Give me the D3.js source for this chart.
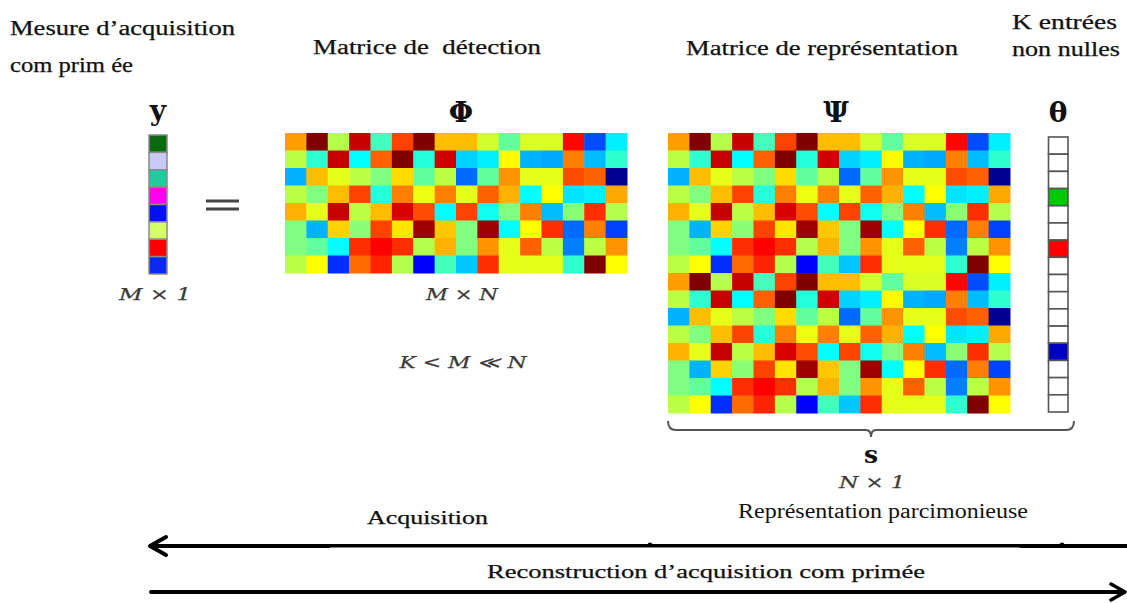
<!DOCTYPE html>
<html>
<head>
<meta charset="utf-8">
<script src="https://cdn.jsdelivr.net/npm/d3@7"></script>
<style>
  html, body { margin: 0; padding: 0; background: #fff; }
  svg { display: block; }
</style>
</head>
<body>
<svg id="chart" width="1127" height="603"></svg>
<script>
// ---- Data (jet colormap in [0,1]) ----
const matrixCols = d3.range(16);

const phiValues = [
  [0.72, 1.00, 0.55, 0.93, 0.44, 0.81, 1.00, 0.69, 0.69, 0.58, 0.47, 0.59, 0.59, 0.87, 0.20, 0.36],
  [0.56, 0.42, 0.93, 0.375, 0.78, 1.00, 0.41, 0.92, 0.33, 0.36, 0.63, 0.30, 0.29, 0.75, 0.31, 0.42],
  [0.30, 0.69, 0.60, 0.56, 0.50, 0.66, 0.47, 0.56, 0.23, 0.47, 0.73, 0.60, 0.60, 0.80, 0.78, 0.02],
  [0.56, 0.50, 0.69, 0.81, 0.41, 0.75, 0.61, 0.75, 0.60, 0.78, 0.70, 0.375, 0.625, 0.35, 0.36, 0.71],
  [0.70, 0.60, 0.93, 0.56, 0.69, 0.91, 0.80, 0.375, 0.81, 0.39, 0.50, 0.75, 0.31, 0.51, 0.83, 0.55],
  [0.50, 0.30, 0.67, 0.51, 0.81, 0.65, 0.97, 0.68, 0.50, 0.97, 0.375, 0.625, 0.83, 0.23, 0.75, 0.19],
  [0.50, 0.47, 0.375, 0.83, 0.875, 0.83, 0.55, 0.70, 0.50, 0.73, 0.60, 0.78, 0.56, 0.25, 0.56, 0.73],
  [0.56, 0.625, 0.17, 0.77, 0.84, 0.55, 0.125, 0.44, 0.32, 0.83, 0.60, 0.60, 0.60, 0.42, 1.00, 0.625]
];

// Psi shows the same 8 rows twice (16 x 16)
const psiValues = [
  [0.72, 1.00, 0.55, 0.93, 0.44, 0.81, 1.00, 0.69, 0.69, 0.58, 0.47, 0.59, 0.59, 0.87, 0.20, 0.36],
  [0.56, 0.42, 0.93, 0.375, 0.78, 1.00, 0.41, 0.92, 0.33, 0.36, 0.63, 0.30, 0.29, 0.75, 0.31, 0.42],
  [0.30, 0.69, 0.60, 0.56, 0.50, 0.66, 0.47, 0.56, 0.23, 0.47, 0.73, 0.60, 0.60, 0.80, 0.78, 0.02],
  [0.56, 0.50, 0.69, 0.81, 0.41, 0.75, 0.61, 0.75, 0.60, 0.78, 0.70, 0.375, 0.625, 0.35, 0.36, 0.71],
  [0.70, 0.60, 0.93, 0.56, 0.69, 0.91, 0.80, 0.375, 0.81, 0.39, 0.50, 0.75, 0.31, 0.51, 0.83, 0.55],
  [0.50, 0.30, 0.67, 0.51, 0.81, 0.65, 0.97, 0.68, 0.50, 0.97, 0.375, 0.625, 0.83, 0.23, 0.75, 0.19],
  [0.50, 0.47, 0.375, 0.83, 0.875, 0.83, 0.55, 0.70, 0.50, 0.73, 0.60, 0.78, 0.56, 0.25, 0.56, 0.73],
  [0.56, 0.625, 0.17, 0.77, 0.84, 0.55, 0.125, 0.44, 0.32, 0.83, 0.60, 0.60, 0.60, 0.42, 1.00, 0.625],
  [0.72, 1.00, 0.55, 0.93, 0.44, 0.81, 1.00, 0.69, 0.69, 0.58, 0.47, 0.59, 0.59, 0.87, 0.20, 0.36],
  [0.56, 0.42, 0.93, 0.375, 0.78, 1.00, 0.41, 0.92, 0.33, 0.36, 0.63, 0.30, 0.29, 0.75, 0.31, 0.42],
  [0.30, 0.69, 0.60, 0.56, 0.50, 0.66, 0.47, 0.56, 0.23, 0.47, 0.73, 0.60, 0.60, 0.80, 0.78, 0.02],
  [0.56, 0.50, 0.69, 0.81, 0.41, 0.75, 0.61, 0.75, 0.60, 0.78, 0.70, 0.375, 0.625, 0.35, 0.36, 0.71],
  [0.70, 0.60, 0.93, 0.56, 0.69, 0.91, 0.80, 0.375, 0.81, 0.39, 0.50, 0.75, 0.31, 0.51, 0.83, 0.55],
  [0.50, 0.30, 0.67, 0.51, 0.81, 0.65, 0.97, 0.68, 0.50, 0.97, 0.375, 0.625, 0.83, 0.23, 0.75, 0.19],
  [0.50, 0.47, 0.375, 0.83, 0.875, 0.83, 0.55, 0.70, 0.50, 0.73, 0.60, 0.78, 0.56, 0.25, 0.56, 0.73],
  [0.56, 0.625, 0.17, 0.77, 0.84, 0.55, 0.125, 0.44, 0.32, 0.83, 0.60, 0.60, 0.60, 0.42, 1.00, 0.625]
];

const yVectorColors = ["#0b6a10", "#c9c9f6", "#1fcc9e", "#ff00f0", "#0010f0", "#d4ff66", "#ff0000", "#0a28f0"];
const thetaColors = [null, null, null, "#00c800", null, null, "#ff0000", null,
                     null, null, null, null, "#0000c0", null, null, null];

const topLabels = [
  { text: "Mesure d\u2019acquisition", x: 10, y: 35, len: 225 },
  { text: "com prim \u00e9e", x: 10, y: 72, len: 123 },
  { text: "Matrice de  d\u00e9tection", x: 313, y: 54, len: 228 },
  { text: "Matrice de repr\u00e9sentation", x: 686, y: 55, len: 272 },
  { text: "K entr\u00e9es", x: 1012, y: 29, len: 105 },
  { text: "non nulles", x: 1012, y: 56, len: 108 }
];
const symbolLabels = [
  { text: "y", x: 158, y: 120, size: 28 },
  { text: "\u03A6", x: 461, y: 122, size: 28 },
  { text: "\u03A8", x: 836, y: 122, size: 28 },
  { text: "\u03B8", x: 1058, y: 122, size: 28 },
  { text: "s", x: 871, y: 463, size: 25 }
];
const dimLabels = [
  { text: "M \u00d7 1", x: 155, y: 300, len: 72 },
  { text: "M \u00d7 N", x: 462, y: 300, len: 72 },
  { text: "K < M \u226A N", x: 463, y: 368, len: 127 },
  { text: "N \u00d7 1", x: 872, y: 488, len: 66 }
];
const bottomLabels = [
  { text: "Acquisition", x: 367, y: 524, len: 121, size: 19, stroke: 0.25 },
  { text: "Repr\u00e9sentation parcimonieuse", x: 738, y: 518, len: 290, size: 20, stroke: 0 },
  { text: "Reconstruction d\u2019acquisition com prim\u00e9e", x: 487, y: 578, len: 438, size: 19, stroke: 0.25 }
];

// ---- Jet colormap ----
function clamp01(v) { return Math.max(0, Math.min(1, v)); }
function jet(t) {
  const r = clamp01(1.5 - Math.abs(4 * t - 3));
  const g = clamp01(1.5 - Math.abs(4 * t - 2));
  const b = clamp01(1.5 - Math.abs(4 * t - 1));
  return d3.rgb(r * 255, g * 255, b * 255).formatHex();
}
const color = d3.scaleSequential(jet).domain([0, 1]);

const svg = d3.select("#chart");

// ---- Heatmap helper ----
function drawMatrix(values, x0, x1, y0, y1) {
  const x = d3.scaleBand().domain(matrixCols).range([x0, x1]);
  const y = d3.scaleBand().domain(d3.range(values.length)).range([y0, y1]);
  const g = svg.append("g");
  values.forEach((row, ri) => {
    g.selectAll(null).data(row).enter().append("rect")
      .attr("x", (d, ci) => x(ci))
      .attr("y", y(ri))
      .attr("width", x.bandwidth() + 0.5)
      .attr("height", y.bandwidth() + 0.5)
      .attr("fill", d => color(d));
  });
}
drawMatrix(phiValues, 285, 627, 133, 273);
drawMatrix(psiValues, 668, 1010, 133, 413);

// ---- y vector ----
const yBand = d3.scaleBand().domain(d3.range(yVectorColors.length)).range([135, 274]);
svg.append("g").selectAll("rect").data(yVectorColors).enter().append("rect")
  .attr("x", 149).attr("y", (d, i) => yBand(i))
  .attr("width", 18).attr("height", yBand.bandwidth())
  .attr("fill", d => d).attr("stroke", "#8a8a8a").attr("stroke-width", 1.5);

// ---- theta vector ----
const tBand = d3.scaleBand().domain(d3.range(thetaColors.length)).range([137, 412]);
svg.append("g").selectAll("rect").data(thetaColors).enter().append("rect")
  .attr("x", 1048.5).attr("y", (d, i) => tBand(i))
  .attr("width", 19.5).attr("height", tBand.bandwidth())
  .attr("fill", d => d || "#ffffff").attr("stroke", "#555").attr("stroke-width", 1.6);

// ---- equals sign ----
svg.append("g").selectAll("line").data([201, 209]).enter().append("line")
  .attr("x1", 206).attr("x2", 239).attr("y1", d => d).attr("y2", d => d)
  .attr("stroke", "#444").attr("stroke-width", 3);

// ---- brace under Psi/theta ----
svg.append("path")
  .attr("d", "M668,421 Q668,430 676,430 L866,430 Q871,430 871,437 Q871,430 876,430 L1066,430 Q1074,430 1074,421")
  .attr("fill", "none").attr("stroke", "#555").attr("stroke-width", 2);

// ---- text ----
svg.append("g").selectAll("text").data(topLabels).enter().append("text")
  .attr("x", d => d.x).attr("y", d => d.y)
  .attr("textLength", d => d.len).attr("lengthAdjust", "spacingAndGlyphs")
  .attr("font-family", "Liberation Serif, DejaVu Serif, serif")
  .attr("font-size", 20).attr("fill", "#111")
  .attr("stroke", "#111").attr("stroke-width", 0.25)
  .attr("xml:space", "preserve")
  .text(d => d.text);

svg.append("g").selectAll("text").data(symbolLabels).enter().append("text")
  .attr("x", d => d.x).attr("y", d => d.y)
  .attr("text-anchor", "middle")
  .attr("font-family", "DejaVu Serif, Liberation Serif, serif")
  .attr("font-weight", "bold").attr("font-size", d => d.size).attr("fill", "#111")
  .text(d => d.text);

svg.append("g").selectAll("text").data(dimLabels).enter().append("text")
  .attr("x", d => d.x - d.len / 2).attr("y", d => d.y)
  .attr("textLength", d => d.len).attr("lengthAdjust", "spacingAndGlyphs")
  .attr("font-family", "DejaVu Serif, Liberation Serif, serif")
  .attr("font-style", "italic").attr("font-size", 16).attr("fill", "#3a3a3a")
  .attr("stroke", "#3a3a3a").attr("stroke-width", 0.25)
  .text(d => d.text);

// ---- arrows ----
const arrows = svg.append("g");
arrows.append("line").attr("x1", 150).attr("x2", 1127).attr("y1", 546).attr("y2", 546)
  .attr("stroke", "#000").attr("stroke-width", 4);
arrows.append("path").attr("d", "M166,537 L150,546 L166,555")
  .attr("fill", "none").attr("stroke", "#000").attr("stroke-width", 4)
  .attr("stroke-linecap", "round").attr("stroke-linejoin", "round");
arrows.selectAll("circle").data([650, 1062]).enter().append("circle")
  .attr("cx", d => d).attr("cy", 545).attr("r", 2.5).attr("fill", "#000");
// white band behind reconstruction label
arrows.append("rect").attr("x", 330).attr("y", 547.5).attr("width", 690).attr("height", 36).attr("fill", "#fff");

arrows.append("line").attr("x1", 151).attr("x2", 1124).attr("y1", 592).attr("y2", 592)
  .attr("stroke", "#000").attr("stroke-width", 4).attr("stroke-linecap", "round");
arrows.append("path").attr("d", "M1111,584 L1125,592 L1111,600")
  .attr("fill", "none").attr("stroke", "#000").attr("stroke-width", 3.5)
  .attr("stroke-linecap", "round").attr("stroke-linejoin", "round");

svg.append("g").selectAll("text").data(bottomLabels).enter().append("text")
  .attr("x", d => d.x).attr("y", d => d.y)
  .attr("textLength", d => d.len).attr("lengthAdjust", "spacingAndGlyphs")
  .attr("font-family", "Liberation Serif, serif")
  .attr("font-size", d => d.size).attr("fill", "#111")
  .attr("stroke", "#111").attr("stroke-width", d => d.stroke)
  .text(d => d.text);
</script>
</body>
</html>
